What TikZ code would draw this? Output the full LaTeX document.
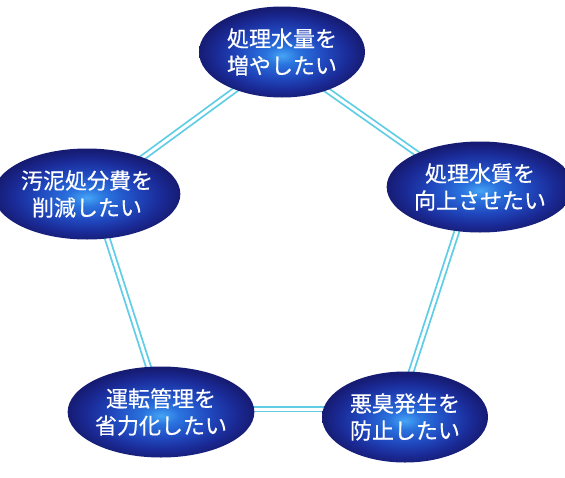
\documentclass[tikz,border=0pt]{standalone}
\usepackage{fontspec}
\newfontfamily\jpfont[FakeBold=0.4]{Noto Sans CJK JP}
\usetikzlibrary{shapes.geometric}
\definecolor{edgeblue}{RGB}{22,28,115}
\definecolor{darkblue}{RGB}{26,42,150}
\definecolor{midblue}{RGB}{32,72,190}
\definecolor{lightblue}{RGB}{42,115,222}
\definecolor{centerblue}{RGB}{70,165,245}
\definecolor{linecyan}{RGB}{95,205,230}
\pgfdeclareradialshading{ballshade}{\pgfpoint{0bp}{-2bp}}{%
  color(0bp)=(centerblue); color(5bp)=(lightblue); color(13bp)=(midblue);
  color(20bp)=(darkblue); color(25bp)=(edgeblue); color(50bp)=(edgeblue)}
\tikzset{
  goal/.style={ellipse, minimum width=166pt, minimum height=91pt, inner sep=0pt,
    shading=ballshade, text=white, align=center,
    font=\jpfont\fontsize{22}{27}\selectfont},
  link/.style={draw=linecyan, line width=1.8pt, double=white, double distance=3pt}
}
\begin{document}
\begin{tikzpicture}[x=1pt,y=-1pt]
\useasboundingbox[fill=white] (0,0) rectangle (565,477);
% pentagon vertices for connectors
\coordinate (pA) at (280,57);
\coordinate (pB) at (470,191);
\coordinate (pC) at (399,409);
\coordinate (pD) at (162,409);
\coordinate (pE) at (93,194);
\draw[link] (pE) -- (pA);
\draw[link] (pA) -- (pB);
\draw[link] (pB) -- (pC);
\draw[link] (pC) -- (pD);
\draw[link] (pD) -- (pE);
\node[goal] (top) at (282,52) {処理水量を\\増やしたい};
\node[goal] (tr) at (480,187) {処理水質を\\向上させたい};
\node[goal] (br) at (405,417) {悪臭発生を\\防止したい};
\node[goal] (bl) at (161,412) {運転管理を\\省力化したい};
\node[goal] (lf) at (87,194) {汚泥処分費を\\削減したい};
\end{tikzpicture}
\end{document}
